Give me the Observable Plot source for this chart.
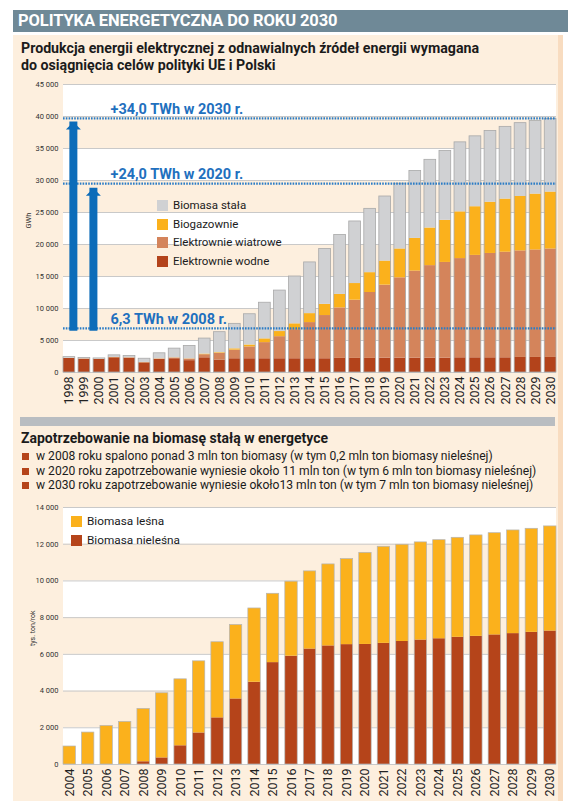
<!DOCTYPE html>
<html><head><meta charset="utf-8">
<script src="https://cdn.jsdelivr.net/npm/d3@7"></script>
<script src="https://cdn.jsdelivr.net/npm/@observablehq/plot@0.6"></script>
<style>
body{margin:0;width:568px;height:801px;position:relative;background:#fff;font-family:Roboto,"Noto Sans",sans-serif;overflow:hidden;color:#1b1b1b}
.abs{position:absolute}
#header{left:13px;top:10px;width:555px;height:22px;background:#6f8997;color:#fff;font-weight:700;font-size:16.5px;line-height:22px;padding-left:5px;box-sizing:border-box;letter-spacing:-0.1px}
#panel{left:13px;top:35px;width:545px;height:766px;background:#fdefde;border-right:5px solid #f8dcc0}
#title1{left:21px;top:40px;font-weight:700;font-size:14.2px;line-height:16.5px}
#sep{left:20px;top:417px;width:535px;height:9px;background:#b9bdc1}
#title2{left:21px;top:429px;font-weight:700;font-size:14px;line-height:18px}
.bul{left:22px;font-size:12.1px;line-height:14px;white-space:nowrap}
.bul i{display:inline-block;width:7px;height:7px;background:#b5441a;margin-right:7px;vertical-align:0px}
.leg{font-size:11.5px;white-space:nowrap;line-height:12px}
.leg i{display:inline-block;width:11px;height:11px;margin-right:5px;vertical-align:-2px}
#chart1{left:13px;top:76px}
#chart2{left:13px;top:497px}
</style></head><body>
<div id="header" class="abs">POLITYKA ENERGETYCZNA DO ROKU 2030</div>
<div id="panel" class="abs"></div>
<div id="title1" class="abs">Produkcja energii elektrycznej z odnawialnych źródeł energii wymagana<br>do osiągnięcia celów polityki UE i Polski</div>
<div id="chart1" class="abs"></div>
<div id="legend1"></div>
<div id="sep" class="abs"></div>
<div id="title2" class="abs">Zapotrzebowanie na biomasę stałą w energetyce</div>
<div id="bullets"></div>
<div id="chart2" class="abs"></div>
<div id="legend2"></div>
<script>
// ---------- DATA: top chart (GWh) ----------
const years1 = ["1998","1999","2000","2001","2002","2003","2004","2005","2006","2007","2008","2009","2010","2011","2012","2013","2014","2015","2016","2017","2018","2019","2020","2021","2022","2023","2024","2025","2026","2027","2028","2029","2030"];
const series1 = ["Elektrownie wodne","Elektrownie wiatrowe","Biogazownie","Biomasa stała"];
const colors1 = ["#b3431b","#d4845b","#fbb11c","#d0d1d3"];
const wodne    = [2200,2100,2050,2300,2250,1500,2050,2150,1850,2300,1950,2150,2150,2150,2150,2150,2150,2150,2200,2200,2200,2250,2250,2250,2250,2250,2300,2300,2300,2300,2350,2350,2350];
const wiatrowe = [0,0,0,20,30,50,60,120,250,480,1050,1350,1850,2520,3450,4550,5650,6750,7900,9100,10300,11400,12550,13600,14450,14950,15500,16000,16300,16500,16650,16800,16950];
const biogaz   = [20,20,20,20,20,20,30,30,40,100,100,200,300,580,800,900,1400,1750,2100,2600,3100,3750,4500,5100,5880,6580,7300,7600,8000,8290,8500,8720,8890];
const biomasa  = [180,140,130,340,270,580,860,1430,2010,2420,3200,3900,4800,5650,6400,7400,8000,8650,9300,9700,9970,10100,10200,10550,10650,10820,10860,11000,11150,11290,11460,11450,11400];
const yTicks1 = [0,5000,10000,15000,20000,25000,30000,35000,40000,45000];
const whiteBands1 = [0,10000,20000,30000,40000];
const targets = [
  {value: 39700, label: "+34,0 TWh w 2030 r."},
  {value: 29500, label: "+24,0 TWh w 2020 r."},
  {value: 6900,  label: "6,3 TWh w 2008 r."}
];
const arrow1 = [{year: "1998", from: 7400, to: 39150}];
const arrow2 = [{year: "1999", from: 7400, to: 28800}];

// ---------- DATA: bottom chart (tys. ton/rok) ----------
const years2 = ["2004","2005","2006","2007","2008","2009","2010","2011","2012","2013","2014","2015","2016","2017","2018","2019","2020","2021","2022","2023","2024","2025","2026","2027","2028","2029","2030"];
const series2 = ["Biomasa nieleśna","Biomasa leśna"];
const colors2 = ["#b5441a","#fbb11c"];
const nielesna = [0,0,0,0,150,360,1020,1720,2540,3570,4480,5550,5900,6290,6460,6530,6540,6600,6700,6780,6850,6930,6980,7060,7130,7200,7270];
const lesna    = [980,1740,2100,2320,2880,3520,3620,3900,4120,4030,4020,3750,4060,4230,4440,4660,4990,5260,5270,5320,5370,5420,5500,5540,5620,5640,5700];
const yTicks2 = [0,2000,4000,6000,8000,10000,12000,14000];
const whiteBands2 = [0,4000,8000,12000];

const bulletTexts = [
  "w 2008 roku spalono ponad 3 mln ton biomasy (w tym 0,2 mln ton biomasy nieleśnej)",
  "w 2020 roku zapotrzebowanie wyniesie około 11 mln ton (w tym 6 mln ton biomasy nieleśnej)",
  "w 2030 roku zapotrzebowanie wyniesie około13 mln ton (w tym 7 mln ton biomasy nieleśnej)"
];

// ---------- build tables ----------
const vals1 = [wodne, wiatrowe, biogaz, biomasa];
const long1 = [];
years1.forEach((y, i) => series1.forEach((s, j) => long1.push({year: y, series: s, value: vals1[j][i]})));
const totals1 = years1.map((y, i) => ({year: y, total: vals1.reduce((a, v) => a + v[i], 0)}));
const vals2 = [nielesna, lesna];
const long2 = [];
years2.forEach((y, i) => series2.forEach((s, j) => long2.push({year: y, series: s, value: vals2[j][i]})));
const totals2 = years2.map((y, i) => ({year: y, total: nielesna[i] + lesna[i]}));

const fmt = d3.formatLocale({thousands: " ", grouping: [3], decimal: ","}).format(",");
const blue = "#0c6cb9";
const head = {draw(ctx) { ctx.moveTo(0, 0); ctx.lineTo(7.5, 7.5); ctx.lineTo(-7.5, 7.5); ctx.closePath(); }};
const arrowMarks = (data, dx) => [
  Plot.ruleX(data, {x: "year", y1: "from", y2: "to", stroke: blue, strokeWidth: 8, insetTop: 6, dx}),
  Plot.dot(data, {x: "year", y: "to", symbol: head, r: 5, fill: blue, stroke: "none", dx})
];

const chart1 = Plot.plot({
  width: 550, height: 334, marginLeft: 50, marginRight: 7, marginTop: 8, marginBottom: 38,
  style: {background: "transparent", fontFamily: "Roboto, sans-serif"},
  x: {type: "band", domain: years1, paddingInner: 0.22, paddingOuter: 0, round: false},
  y: {domain: [0, 45000]},
  color: {domain: series1, range: colors1},
  marks: [
    Plot.rect(whiteBands1, {y1: d => d, y2: d => d + 5000, fill: "#fff"}),
    Plot.ruleY(yTicks1, {stroke: "#c9c9c9"}),
    Plot.barY(long1, {x: "year", y: "value", fill: "series", order: series1}),
    Plot.barY(totals1, {x: "year", y: "total", fill: "none", stroke: "#a9a9a9", strokeWidth: 0.8}),
    Plot.ruleY(targets, {y: "value", stroke: "#2a7cc6", strokeWidth: 2.2, strokeDasharray: "1.6,1.2"}),
    Plot.text(targets, {x: () => "2001", y: "value", text: "label", textAnchor: "start", dx: -4, dy: -9, fontSize: 14.5, fontWeight: "bold", fill: "#1f70be"}),
    ...arrowMarks(arrow1, 4),
    ...arrowMarks(arrow2, 9),
    Plot.axisY({ticks: yTicks1, tickFormat: fmt, tickSize: 0, tickPadding: 5, fontSize: 7.5, fill: "#333", label: null}),
    Plot.axisX({tickRotate: -90, tickSize: 0, tickPadding: 4, fontSize: 12.5, fill: "#222", label: null}),
    Plot.text(["GWh"], {frameAnchor: "left", rotate: -90, dx: -35, fontSize: 7.5, fill: "#333"})
  ]
});
document.getElementById("chart1").appendChild(chart1);

const chart2 = Plot.plot({
  width: 550, height: 304, marginLeft: 50, marginRight: 7, marginTop: 10, marginBottom: 37,
  style: {background: "transparent", fontFamily: "Roboto, sans-serif"},
  x: {type: "band", domain: years2, paddingInner: 0.33, paddingOuter: 0, round: false},
  y: {domain: [0, 14000]},
  color: {domain: series2, range: colors2},
  marks: [
    Plot.rect(whiteBands2, {y1: d => d, y2: d => d + 2000, fill: "#fff"}),
    Plot.ruleY(yTicks2, {stroke: "#c9c9c9"}),
    Plot.barY(long2, {x: "year", y: "value", fill: "series", order: series2}),
    Plot.barY(totals2, {x: "year", y: "total", fill: "none", stroke: "#b5b5b5", strokeWidth: 0.7}),
    Plot.axisY({ticks: yTicks2, tickFormat: fmt, tickSize: 0, tickPadding: 5, fontSize: 7.5, fill: "#333", label: null}),
    Plot.axisX({tickRotate: -90, tickSize: 0, tickPadding: 4, fontSize: 12.5, fill: "#222", label: null}),
    Plot.text(["tys. ton/rok"], {frameAnchor: "left", rotate: -90, dx: -31, dy: 10, fontSize: 7, fill: "#333"})
  ]
});
document.getElementById("chart2").appendChild(chart2);

// ---------- legends & bullets ----------
const leg1 = document.getElementById("legend1");
[...series1].reverse().forEach((s, k) => {
  const c = colors1[series1.indexOf(s)];
  const d = document.createElement("div");
  d.className = "abs leg";
  d.style.left = "157px"; d.style.top = (199 + k * 18.7) + "px";
  d.innerHTML = `<i style="background:${c}"></i>${s}`;
  leg1.appendChild(d);
});
const leg2 = document.getElementById("legend2");
[...series2].reverse().forEach((s, k) => {
  const c = colors2[series2.indexOf(s)];
  const d = document.createElement("div");
  d.className = "abs leg";
  d.style.left = "71px"; d.style.top = (515 + k * 18.5) + "px"; d.style.fontSize = "11.8px";
  d.innerHTML = `<i style="background:${c}"></i>${s}`;
  leg2.appendChild(d);
});
const bl = document.getElementById("bullets");
bulletTexts.forEach((t, k) => {
  const d = document.createElement("div");
  d.className = "abs bul";
  d.style.top = (449 + k * 14.7) + "px";
  d.innerHTML = `<i></i>${t}`;
  bl.appendChild(d);
});
</script>
</body></html>
